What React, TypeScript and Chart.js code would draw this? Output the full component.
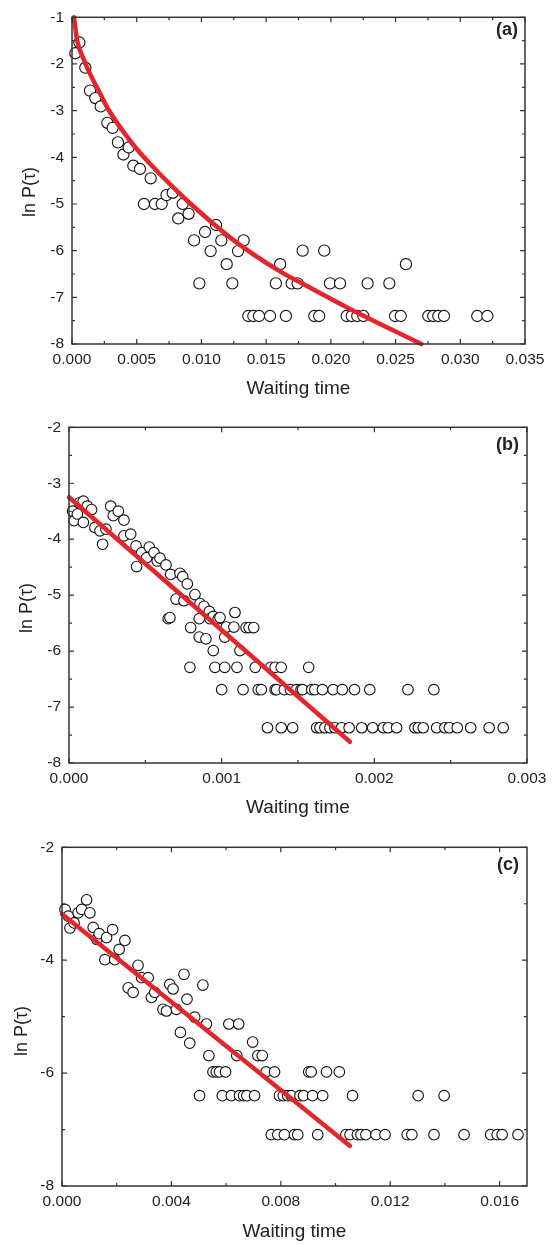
import React, { useEffect, useRef } from "react";
import { Chart, registerables } from "chart.js";

Chart.register(...registerables);

// ---------------- Panel (a) ----------------
const A_X = [0.00026, 0.00057, 0.00103, 0.00139, 0.0018, 0.00222, 0.00273, 0.00314, 0.00355, 0.00397, 0.00438, 0.00474, 0.00525, 0.00556, 0.00608, 0.00641, 0.00693, 0.0073, 0.00778, 0.00821, 0.00855, 0.00901, 0.00943, 0.00984, 0.01028, 0.01071, 0.01113, 0.01154, 0.01195, 0.01239, 0.01283, 0.01326, 0.01362, 0.01401, 0.01445, 0.0153, 0.01575, 0.01608, 0.01653, 0.01697, 0.01743, 0.01782, 0.01872, 0.0191, 0.01949, 0.01993, 0.02071, 0.02122, 0.02161, 0.02204, 0.02251, 0.02284, 0.02452, 0.02496, 0.0254, 0.0258, 0.02753, 0.02791, 0.0283, 0.02874, 0.03131, 0.03209];
const A_Y = [-1.77, -1.54, -2.08, -2.57, -2.73, -2.91, -3.26, -3.37, -3.68, -3.94, -3.79, -4.18, -4.25, -5.0, -4.45, -5.0, -5.0, -4.81, -4.76, -5.31, -5.0, -5.21, -5.78, -6.7, -5.6, -6.01, -5.45, -5.78, -6.29, -6.7, -6.01, -5.78, -7.4, -7.4, -7.4, -7.4, -6.7, -6.29, -7.4, -6.7, -6.7, -6.0, -7.4, -7.4, -6.0, -6.7, -6.7, -7.4, -7.4, -7.4, -7.4, -6.7, -6.7, -7.4, -7.4, -6.29, -7.4, -7.4, -7.4, -7.4, -7.4, -7.4];
const A_FIT_X = [0.00015, 0.0004, 0.0009, 0.0012, 0.0022, 0.0028, 0.0047, 0.0059, 0.0078, 0.0089, 0.0125, 0.0161, 0.0179, 0.0217, 0.027];
const A_FIT_Y = [-1.0, -1.5, -1.9, -2.1, -2.65, -2.97, -3.72, -4.1, -4.64, -4.93, -5.78, -6.45, -6.72, -7.28, -8.0];
const A_X_TICKS = [0, 0.005, 0.01, 0.015, 0.02, 0.025, 0.03, 0.035];
const A_Y_TICKS = [-1, -2, -3, -4, -5, -6, -7, -8];

// ---------------- Panel (b) ----------------
const B_X = [0.000024, 0.000033, 0.000055, 0.000068, 0.000094, 0.000094, 0.00012, 0.000148, 0.00017, 0.000203, 0.00022, 0.000242, 0.000273, 0.00029, 0.000323, 0.00036, 0.00036, 0.000404, 0.000439, 0.000443, 0.000476, 0.000509, 0.000526, 0.000557, 0.000578, 0.000596, 0.000635, 0.00065, 0.000661, 0.000666, 0.000701, 0.000727, 0.000745, 0.000753, 0.000775, 0.000792, 0.000797, 0.000825, 0.000853, 0.000853, 0.000858, 0.000884, 0.000897, 0.000919, 0.000923, 0.000945, 0.000945, 0.000956, 0.000978, 0.000989, 0.001, 0.00102, 0.00102, 0.00103, 0.00108, 0.001087, 0.0011, 0.00112, 0.00114, 0.00116, 0.00118, 0.00121, 0.00122, 0.00124, 0.00126, 0.0013, 0.00132, 0.00135, 0.00135, 0.00136, 0.00139, 0.00139, 0.00141, 0.00145, 0.001465, 0.00149, 0.00152, 0.00153, 0.00157, 0.00159, 0.00161, 0.001622, 0.001644, 0.00166, 0.001676, 0.001709, 0.00173, 0.001742, 0.00179, 0.001785, 0.001835, 0.00187, 0.001917, 0.00197, 0.001989, 0.002059, 0.002091, 0.002146, 0.00222, 0.002266, 0.002288, 0.00232, 0.00239, 0.002408, 0.002462, 0.002491, 0.002543, 0.002631, 0.002752, 0.002844];
const B_Y = [-3.5, -3.67, -3.55, -3.35, -3.32, -3.7, -3.41, -3.47, -3.79, -3.85, -4.09, -3.82, -3.41, -3.58, -3.5, -3.66, -3.94, -3.91, -4.12, -4.49, -4.24, -4.33, -4.14, -4.24, -4.39, -4.34, -4.46, -5.42, -5.4, -4.63, -5.07, -4.61, -4.67, -5.1, -4.8, -6.29, -5.58, -4.99, -5.42, -5.75, -5.15, -5.2, -5.78, -5.29, -5.42, -5.38, -5.99, -6.29, -5.42, -5.4, -6.69, -5.75, -6.29, -5.57, -5.57, -5.31, -6.29, -5.99, -6.69, -5.58, -5.58, -5.58, -6.29, -6.69, -6.69, -7.37, -6.29, -6.29, -6.69, -6.69, -6.29, -7.37, -6.69, -6.69, -7.37, -6.69, -6.69, -6.69, -6.29, -6.69, -6.69, -7.37, -7.37, -6.69, -7.37, -7.37, -6.69, -7.37, -6.69, -7.37, -7.37, -6.69, -7.37, -6.69, -7.37, -7.37, -7.37, -7.37, -6.69, -7.37, -7.37, -7.37, -6.69, -7.37, -7.37, -7.37, -7.37, -7.37, -7.37, -7.37];
const B_FIT_X = [0, 0.00184];
const B_FIT_Y = [-3.25, -7.62];
const B_X_TICKS = [0, 0.001, 0.002, 0.003];
const B_Y_TICKS = [-2, -3, -4, -5, -6, -7, -8];

// ---------------- Panel (c) ----------------
const C_X = [0.00011, 0.00023, 0.00029, 0.00044, 0.00059, 0.00072, 0.0009, 0.00102, 0.00114, 0.00127, 0.00136, 0.00157, 0.00163, 0.00185, 0.00193, 0.00209, 0.0023, 0.00242, 0.0026, 0.00278, 0.00291, 0.00315, 0.00327, 0.00339, 0.00369, 0.00382, 0.00394, 0.00406, 0.00418, 0.00433, 0.00446, 0.00457, 0.00467, 0.00485, 0.00503, 0.00515, 0.00528, 0.00537, 0.00552, 0.00564, 0.00576, 0.00586, 0.00598, 0.0061, 0.00619, 0.00639, 0.00646, 0.00649, 0.00664, 0.00676, 0.00697, 0.00704, 0.00716, 0.00732, 0.00746, 0.00765, 0.00777, 0.00789, 0.00795, 0.00809, 0.00813, 0.00825, 0.00838, 0.0085, 0.00862, 0.0087, 0.00883, 0.00902, 0.00911, 0.00916, 0.00935, 0.00953, 0.00967, 0.01014, 0.01038, 0.01053, 0.01062, 0.0108, 0.01093, 0.01111, 0.01148, 0.01181, 0.01262, 0.01279, 0.01302, 0.0136, 0.01397, 0.0147, 0.01567, 0.01591, 0.01609, 0.01667];
const C_Y = [-3.1, -3.22, -3.43, -3.34, -3.16, -3.1, -2.93, -3.16, -3.42, -3.63, -3.53, -3.99, -3.6, -3.46, -3.99, -3.81, -3.65, -4.49, -4.57, -4.09, -4.31, -4.31, -4.66, -4.57, -4.87, -4.9, -4.43, -4.51, -4.87, -5.28, -4.25, -4.69, -5.47, -5.01, -6.4, -4.44, -5.13, -5.69, -5.98, -5.98, -5.98, -6.4, -5.98, -5.13, -6.4, -5.69, -5.13, -6.4, -6.4, -6.4, -5.45, -6.4, -5.69, -5.69, -5.98, -7.09, -5.98, -7.09, -6.4, -6.4, -7.09, -6.4, -6.4, -7.09, -7.09, -6.4, -6.4, -5.98, -5.98, -6.4, -7.09, -6.4, -5.98, -5.98, -7.09, -7.09, -6.4, -7.09, -7.09, -7.09, -7.09, -7.09, -7.09, -7.09, -6.4, -7.09, -6.4, -7.09, -7.09, -7.09, -7.09, -7.09];
const C_FIT_X = [0, 0.01053];
const C_FIT_Y = [-3.18, -7.29];
const C_X_TICKS = [0, 0.004, 0.008, 0.012, 0.016];
const C_Y_TICKS = [-2, -4, -6, -8];

const FONT = '"Liberation Sans", Arial, Helvetica, sans-serif';
const INK = "#222222";
const AXIS = "#333333";
const RED = "#e4252b";

type Panel = {
  key: string;
  label: string;
  xs: number[];
  ys: number[];
  fx: number[];
  fy: number[];
  xMin: number;
  xMax: number;
  yMin: number;
  yMax: number;
  xTicks: number[];
  yTicks: number[];
  xMinorStep: number;
  yMinorStep: number;
  top: number;
  height: number;
  plot: { left: number; top: number; right: number; bottom: number };
  xTitleY: number;
  yTitle: { x: number; y: number };
  labelPos: { x: number; y: number };
  radius: number;
};

const PANELS: Panel[] = [
  {
    key: "a", label: "(a)", xs: A_X, ys: A_Y, fx: A_FIT_X, fy: A_FIT_Y,
    xMin: 0, xMax: 0.035, yMin: -8, yMax: -1, xTicks: A_X_TICKS, yTicks: A_Y_TICKS,
    xMinorStep: 0.0025, yMinorStep: 0.5,
    top: 0, height: 410, plot: { left: 72, top: 13, right: 525, bottom: 344 },
    xTitleY: 389, yTitle: { x: 30, y: 192 }, labelPos: { x: 518, y: 30 }, radius: 5.6,
  },
  {
    key: "b", label: "(b)", xs: B_X, ys: B_Y, fx: B_FIT_X, fy: B_FIT_Y,
    xMin: 0, xMax: 0.003, yMin: -8, yMax: -2, xTicks: B_X_TICKS, yTicks: B_Y_TICKS,
    xMinorStep: 0.0005, yMinorStep: 0.5,
    top: 410, height: 420, plot: { left: 69, top: 16, right: 527, bottom: 353 },
    xTitleY: 398, yTitle: { x: 27, y: 198 }, labelPos: { x: 519, y: 35.5 }, radius: 5.3,
  },
  {
    key: "c", label: "(c)", xs: C_X, ys: C_Y, fx: C_FIT_X, fy: C_FIT_Y,
    xMin: 0, xMax: 0.017, yMin: -8, yMax: -2, xTicks: C_X_TICKS, yTicks: C_Y_TICKS,
    xMinorStep: 0.002, yMinorStep: 1,
    top: 830, height: 415, plot: { left: 62, top: 16, right: 527, bottom: 356 },
    xTitleY: 402, yTitle: { x: 22, y: 201 }, labelPos: { x: 519, y: 35.5 }, radius: 5.3,
  },
];

function minorValues(min: number, max: number, step: number): number[] {
  const out: number[] = [];
  const n = Math.floor((max - min) / step + 1e-6);
  for (let i = 0; i <= n; i++) out.push(min + i * step);
  return out;
}

const framePlugin = {
  id: "frame",
  afterDatasetsDraw(chart: any, _args: any, opts: any) {
    const { ctx, chartArea, scales } = chart;
    const { left, right, top, bottom } = chartArea;
    const p: Panel = opts.panel;
    ctx.save();
    ctx.strokeStyle = AXIS;
    ctx.lineWidth = 1.5;
    ctx.strokeRect(left, top, right - left, bottom - top);
    ctx.lineWidth = 1.2;
    const majorLen = 5;
    const minorLen = 3;
    const isMajor = (v: number, arr: number[]) => arr.some((t) => Math.abs(t - v) < 1e-9);
    ctx.beginPath();
    for (const v of minorValues(p.xMin, p.xMax, p.xMinorStep)) {
      const px = scales.x.getPixelForValue(v);
      const len = isMajor(v, p.xTicks) ? majorLen : minorLen;
      ctx.moveTo(px, bottom); ctx.lineTo(px, bottom - len);
      ctx.moveTo(px, top); ctx.lineTo(px, top + len);
    }
    for (const v of minorValues(p.yMin, p.yMax, p.yMinorStep)) {
      const py = scales.y.getPixelForValue(v);
      const len = isMajor(v, p.yTicks) ? majorLen : minorLen;
      ctx.moveTo(left, py); ctx.lineTo(left + len, py);
      ctx.moveTo(right, py); ctx.lineTo(right - len, py);
    }
    ctx.stroke();

    ctx.fillStyle = INK;
    ctx.textAlign = "center";
    ctx.textBaseline = "middle";
    ctx.font = `19px ${FONT}`;
    ctx.fillText("Waiting time", (left + right) / 2, p.xTitleY);

    ctx.save();
    ctx.translate(p.yTitle.x, p.yTitle.y);
    ctx.rotate(-Math.PI / 2);
    ctx.font = `18px ${FONT}`;
    ctx.fillText("ln P(τ)", 0, 0);
    ctx.restore();

    ctx.font = `bold 18px ${FONT}`;
    ctx.textAlign = "right";
    ctx.fillText(p.label, p.labelPos.x, p.labelPos.y);
    ctx.restore();
  },
};

function PanelChart({ p }: { p: Panel }) {
  const ref = useRef<HTMLCanvasElement | null>(null);
  useEffect(() => {
    if (!ref.current) return;
    const pts = p.xs.map((x, i) => ({ x, y: p.ys[i] })).sort((a, b) => a.x - b.x);
    const fit = p.fx.map((x, i) => ({ x, y: p.fy[i] }));
    const chart = new Chart(ref.current, {
      type: "scatter",
      data: {
        datasets: [
          {
            type: "line",
            data: fit,
            borderColor: RED,
            borderWidth: 4.5,
            borderCapStyle: "round",
            pointRadius: 0,
            fill: false,
            cubicInterpolationMode: "monotone",
            order: 0,
            clip: false,
          } as any,
          {
            type: "scatter",
            data: pts,
            pointRadius: p.radius,
            pointBorderWidth: 1.1,
            pointBorderColor: "#111111",
            pointBackgroundColor: "#ffffff",
            order: 1,
            clip: false,
          } as any,
        ],
      },
      options: {
        animation: false,
        responsive: false,
        devicePixelRatio: 1,
        events: [],
        layout: {
          padding: { top: p.plot.top, right: 555 - p.plot.right, left: 0, bottom: 0 },
        },
        plugins: {
          legend: { display: false },
          tooltip: { enabled: false },
          frame: { panel: p },
        } as any,
        scales: {
          x: {
            type: "linear",
            min: p.xMin,
            max: p.xMax,
            grid: { display: false, drawTicks: false },
            border: { display: false },
            afterBuildTicks: (s: any) => {
              s.ticks = p.xTicks.map((v) => ({ value: v }));
            },
            afterFit: (s: any) => {
              s.height = p.height - p.plot.bottom;
            },
            ticks: {
              padding: 6,
              color: INK,
              font: { family: FONT, size: 15.5 },
              maxRotation: 0,
              autoSkip: false,
              callback: (v: any) => Number(v).toFixed(3),
            },
          },
          y: {
            type: "linear",
            min: p.yMin,
            max: p.yMax,
            grid: { display: false, drawTicks: false },
            border: { display: false },
            afterBuildTicks: (s: any) => {
              s.ticks = p.yTicks.map((v) => ({ value: v }));
            },
            afterFit: (s: any) => {
              s.width = p.plot.left;
            },
            ticks: {
              padding: 8,
              color: INK,
              font: { family: FONT, size: 15.5 },
              autoSkip: false,
              callback: (v: any) => String(v),
            },
          },
        },
      },
      plugins: [framePlugin as any],
    });
    return () => chart.destroy();
  }, [p]);
  return (
    <div style={{ position: "absolute", left: 0, top: p.top, width: 555, height: p.height }}>
      <canvas ref={ref} width={555} height={p.height} style={{ display: "block" }} />
    </div>
  );
}

export default function App() {
  return (
    <div style={{ position: "absolute", left: 0, top: 0, width: 555, height: 1245, background: "#ffffff" }}>
      {PANELS.map((p) => (
        <PanelChart key={p.key} p={p} />
      ))}
    </div>
  );
}
